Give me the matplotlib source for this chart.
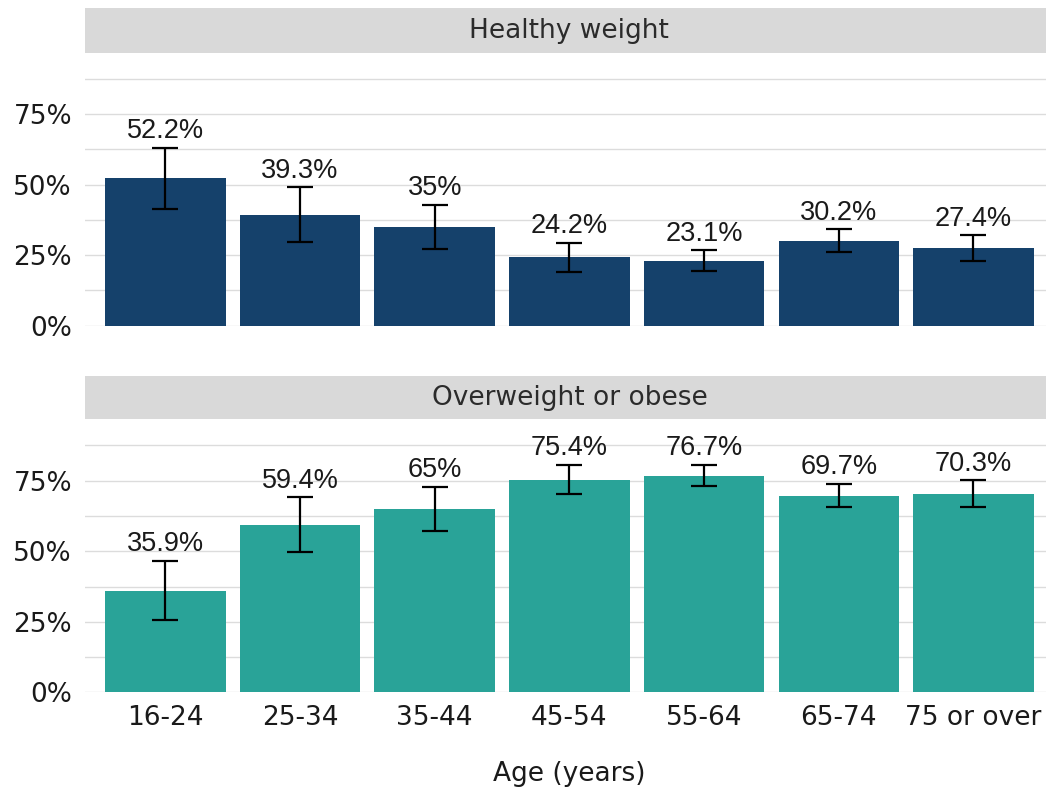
import matplotlib
matplotlib.use("Agg")
import matplotlib.pyplot as plt
import numpy as np

# data
ages = ["16-24", "25-34", "35-44", "45-54", "55-64", "65-74", "75 or over"]
panels = ["Healthy weight", "Overweight or obese"]

healthy = [52.2, 39.3, 35.0, 24.2, 23.1, 30.2, 27.4]
healthy_lo = [41.3, 29.6, 27.2, 19.2, 19.4, 26.1, 22.9]
healthy_hi = [63.1, 49.1, 42.8, 29.3, 26.7, 34.2, 32.0]

over = [35.9, 59.4, 65.0, 75.4, 76.7, 69.7, 70.3]
over_lo = [25.5, 49.8, 57.3, 70.4, 73.0, 65.7, 65.7]
over_hi = [46.7, 69.1, 72.9, 80.7, 80.7, 73.9, 75.1]

colors = ["#15416B", "#29A398"]

W, H = 1046, 789
fig = plt.figure(figsize=(W / 100, H / 100), dpi=100)

def fx(px):
    return px / W

def fy(px):
    return 1 - px / H

left, right = 84.5, 1054.3
# (strip top, strip bottom, panel bottom) in pixels
layout = [(8, 53, 325.7), (376, 419.5, 692.3)]
series = [(healthy, healthy_lo, healthy_hi), (over, over_lo, over_hi)]

x = np.arange(len(ages))
txt_col = "#1a1a1a"

for i, (name, (s_top, s_bot, p_bot)) in enumerate(zip(panels, layout)):
    vals, lo, hi = series[i]

    # facet strip
    sax = fig.add_axes([fx(left), fy(s_bot), fx(right - left), (s_bot - s_top) / H])
    sax.set_facecolor("#d9d9d9")
    sax.set_xticks([])
    sax.set_yticks([])
    for sp in sax.spines.values():
        sp.set_visible(False)
    sax.text(0.5, 0.5, name, ha="center", va="center", fontsize=19,
             color="#2b2b2b", family="DejaVu Sans", transform=sax.transAxes)

    ax = fig.add_axes([fx(left), fy(p_bot), fx(right - left), (p_bot - s_bot) / H])
    ax.set_xlim(-0.6, 6.6)
    ax.set_ylim(0, 96.7)
    ax.set_yticks([0, 25, 50, 75])
    ax.set_yticks([12.5, 37.5, 62.5, 87.5], minor=True)
    ax.set_yticklabels([f"{t}%" for t in [0, 25, 50, 75]])
    ax.grid(axis="y", which="both", color="#dcdcdc", linewidth=1.0)
    ax.set_axisbelow(True)
    for sp in ax.spines.values():
        sp.set_visible(False)
    ax.tick_params(axis="both", which="both", length=0, labelsize=19,
                   labelcolor=txt_col, pad=9)
    ax.set_xticks(x)
    if i == 1:
        ax.set_xticklabels(ages)
    else:
        ax.set_xticklabels([])

    ax.bar(x, vals, width=0.895, color=colors[i], zorder=2)
    v = np.array(vals)
    yerr = [v - np.array(lo), np.array(hi) - v]
    ax.errorbar(x, v, yerr=yerr, fmt="none", ecolor="black", elinewidth=1.6,
                capsize=9.6, capthick=1.6, zorder=3)
    for xi, val, top in zip(x, vals, hi):
        ax.annotate(f"{val:g}%", (xi, top), xytext=(0, 7), textcoords="offset points",
                    ha="center", va="baseline", fontsize=19.5, color=txt_col,
                    family="Liberation Sans")

fig.text(fx(569), fy(774), "Age (years)", ha="center", va="center", fontsize=19,
         color=txt_col, family="DejaVu Sans")

fig.savefig("out.png", dpi=100)
